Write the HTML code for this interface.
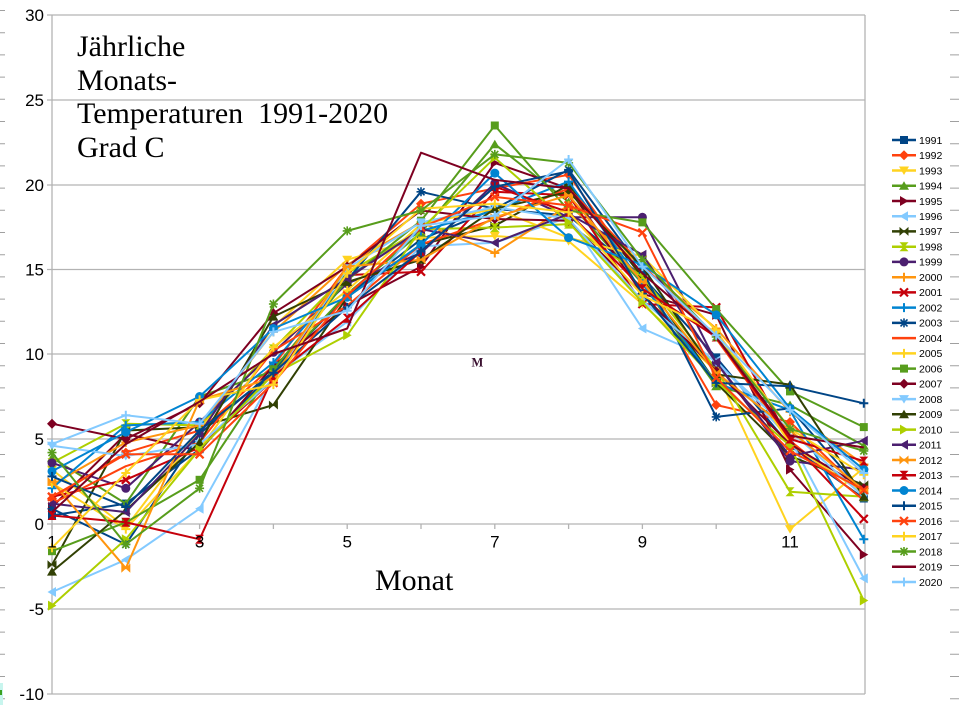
<!DOCTYPE html>
<html><head><meta charset="utf-8"><style>
html,body{margin:0;padding:0;background:#fff;}
body{width:959px;height:714px;overflow:hidden;}
svg{display:block;}
.t{font-family:"Liberation Serif",serif;font-size:30px;fill:#000;white-space:pre;}
.ax{font-family:"Liberation Sans",sans-serif;font-size:17px;fill:#000;}
.lg{font-family:"Liberation Sans",sans-serif;font-size:10.5px;fill:#000;}
</style></head><body>
<svg width="959" height="714" viewBox="0 0 959 714" xmlns="http://www.w3.org/2000/svg">
<defs>
<marker id="a91" viewBox="-6 -6 12 12" markerWidth="12" markerHeight="12" markerUnits="userSpaceOnUse" orient="0"><rect x="-4" y="-4" width="8" height="8" fill="#004586"/></marker>
<marker id="a92" viewBox="-6 -6 12 12" markerWidth="12" markerHeight="12" markerUnits="userSpaceOnUse" orient="0"><polygon points="0,-5 5,0 0,5 -5,0" fill="#ff420e"/></marker>
<marker id="a93" viewBox="-6 -6 12 12" markerWidth="12" markerHeight="12" markerUnits="userSpaceOnUse" orient="0"><polygon points="-5,-4 5,-4 0,4.5" fill="#ffd320"/></marker>
<marker id="a94" viewBox="-6 -6 12 12" markerWidth="12" markerHeight="12" markerUnits="userSpaceOnUse" orient="0"><polygon points="-5,4 5,4 0,-4.5" fill="#579d1c"/></marker>
<marker id="a95" viewBox="-6 -6 12 12" markerWidth="12" markerHeight="12" markerUnits="userSpaceOnUse" orient="0"><polygon points="-4,-5 -4,5 4.5,0" fill="#7e0021"/></marker>
<marker id="a96" viewBox="-6 -6 12 12" markerWidth="12" markerHeight="12" markerUnits="userSpaceOnUse" orient="0"><polygon points="4,-5 4,5 -4.5,0" fill="#83caff"/></marker>
<marker id="a97" viewBox="-6 -6 12 12" markerWidth="12" markerHeight="12" markerUnits="userSpaceOnUse" orient="0"><g fill="#314004"><polygon points="-4.5,-4.5 0.5,0 -4.5,4.5"/><polygon points="4.5,-4.5 -0.5,0 4.5,4.5"/></g></marker>
<marker id="a98" viewBox="-6 -6 12 12" markerWidth="12" markerHeight="12" markerUnits="userSpaceOnUse" orient="0"><g fill="#aecf00"><polygon points="-4.5,-4.5 4.5,-4.5 0,0.5"/><polygon points="-4.5,4.5 4.5,4.5 0,-0.5"/></g></marker>
<marker id="a99" viewBox="-6 -6 12 12" markerWidth="12" markerHeight="12" markerUnits="userSpaceOnUse" orient="0"><circle r="4.5" fill="#4b1f6f"/></marker>
<marker id="a00" viewBox="-6 -6 12 12" markerWidth="12" markerHeight="12" markerUnits="userSpaceOnUse" orient="0"><path d="M-4.5,0H4.5M0,-4.5V4.5" stroke="#ff950e" stroke-width="2" fill="none"/></marker>
<marker id="a01" viewBox="-6 -6 12 12" markerWidth="12" markerHeight="12" markerUnits="userSpaceOnUse" orient="0"><path d="M-4,-4L4,4M-4,4L4,-4" stroke="#c5000b" stroke-width="2.2" fill="none"/></marker>
<marker id="a02" viewBox="-6 -6 12 12" markerWidth="12" markerHeight="12" markerUnits="userSpaceOnUse" orient="0"><path d="M-4.5,0H4.5M0,-4.5V4.5" stroke="#0084d1" stroke-width="2" fill="none"/></marker>
<marker id="a03" viewBox="-6 -6 12 12" markerWidth="12" markerHeight="12" markerUnits="userSpaceOnUse" orient="0"><path d="M-4.5,0H4.5M0,-4.5V4.5M-3.5,-3.5L3.5,3.5M-3.5,3.5L3.5,-3.5" stroke="#004586" stroke-width="1.6" fill="none"/></marker>
<marker id="a05" viewBox="-6 -6 12 12" markerWidth="12" markerHeight="12" markerUnits="userSpaceOnUse" orient="0"><path d="M-4.5,0H4.5M0,-4.5V4.5" stroke="#ffd320" stroke-width="2" fill="none"/></marker>
<marker id="a06" viewBox="-6 -6 12 12" markerWidth="12" markerHeight="12" markerUnits="userSpaceOnUse" orient="0"><rect x="-4" y="-4" width="8" height="8" fill="#579d1c"/></marker>
<marker id="a07" viewBox="-6 -6 12 12" markerWidth="12" markerHeight="12" markerUnits="userSpaceOnUse" orient="0"><polygon points="0,-5 5,0 0,5 -5,0" fill="#7e0021"/></marker>
<marker id="a08" viewBox="-6 -6 12 12" markerWidth="12" markerHeight="12" markerUnits="userSpaceOnUse" orient="0"><polygon points="-5,-4 5,-4 0,4.5" fill="#83caff"/></marker>
<marker id="a09" viewBox="-6 -6 12 12" markerWidth="12" markerHeight="12" markerUnits="userSpaceOnUse" orient="0"><polygon points="-5,4 5,4 0,-4.5" fill="#314004"/></marker>
<marker id="a10" viewBox="-6 -6 12 12" markerWidth="12" markerHeight="12" markerUnits="userSpaceOnUse" orient="0"><polygon points="-4,-5 -4,5 4.5,0" fill="#aecf00"/></marker>
<marker id="a11" viewBox="-6 -6 12 12" markerWidth="12" markerHeight="12" markerUnits="userSpaceOnUse" orient="0"><polygon points="4,-5 4,5 -4.5,0" fill="#4b1f6f"/></marker>
<marker id="a12" viewBox="-6 -6 12 12" markerWidth="12" markerHeight="12" markerUnits="userSpaceOnUse" orient="0"><g fill="#ff950e"><polygon points="-4.5,-4.5 0.5,0 -4.5,4.5"/><polygon points="4.5,-4.5 -0.5,0 4.5,4.5"/></g></marker>
<marker id="a13" viewBox="-6 -6 12 12" markerWidth="12" markerHeight="12" markerUnits="userSpaceOnUse" orient="0"><g fill="#c5000b"><polygon points="-4.5,-4.5 4.5,-4.5 0,0.5"/><polygon points="-4.5,4.5 4.5,4.5 0,-0.5"/></g></marker>
<marker id="a14" viewBox="-6 -6 12 12" markerWidth="12" markerHeight="12" markerUnits="userSpaceOnUse" orient="0"><circle r="4.5" fill="#0084d1"/></marker>
<marker id="a15" viewBox="-6 -6 12 12" markerWidth="12" markerHeight="12" markerUnits="userSpaceOnUse" orient="0"><path d="M-4.5,0H4.5M0,-4.5V4.5" stroke="#004586" stroke-width="2" fill="none"/></marker>
<marker id="a16" viewBox="-6 -6 12 12" markerWidth="12" markerHeight="12" markerUnits="userSpaceOnUse" orient="0"><path d="M-4,-4L4,4M-4,4L4,-4" stroke="#ff420e" stroke-width="2.2" fill="none"/></marker>
<marker id="a17" viewBox="-6 -6 12 12" markerWidth="12" markerHeight="12" markerUnits="userSpaceOnUse" orient="0"><path d="M-4.5,0H4.5M0,-4.5V4.5" stroke="#ffd320" stroke-width="2" fill="none"/></marker>
<marker id="a18" viewBox="-6 -6 12 12" markerWidth="12" markerHeight="12" markerUnits="userSpaceOnUse" orient="0"><path d="M-4.5,0H4.5M0,-4.5V4.5M-3.5,-3.5L3.5,3.5M-3.5,3.5L3.5,-3.5" stroke="#579d1c" stroke-width="1.6" fill="none"/></marker>
<marker id="a20" viewBox="-6 -6 12 12" markerWidth="12" markerHeight="12" markerUnits="userSpaceOnUse" orient="0"><path d="M-4.5,0H4.5M0,-4.5V4.5" stroke="#83caff" stroke-width="2" fill="none"/></marker>
</defs>

<!-- edge ruler dashes -->
<g stroke="#a0a0a0" stroke-width="1">
<path d="M0,10.5H5M0,32.7H5M0,54.9H5M0,77.1H5M0,99.3H5M0,121.5H5M0,143.7H5M0,165.9H5M0,188.1H5M0,210.3H5M0,232.5H5M0,254.7H5M0,276.9H5M0,299.1H5M0,321.3H5M0,343.5H5M0,365.7H5M0,387.9H5M0,410.1H5M0,432.3H5M0,454.5H5M0,476.7H5M0,498.9H5M0,521.1H5M0,543.3H5M0,565.5H5M0,587.7H5M0,609.9H5M0,632.1H5M0,654.3H5M0,676.5H5M0,698.7H5"/>
<path d="M950,10.5H959M950,32.7H959M950,54.9H959M950,77.1H959M950,99.3H959M950,121.5H959M950,143.7H959M950,165.9H959M950,188.1H959M950,210.3H959M950,232.5H959M950,254.7H959M950,276.9H959M950,299.1H959M950,321.3H959M950,343.5H959M950,365.7H959M950,387.9H959M950,410.1H959M950,432.3H959M950,454.5H959M950,476.7H959M950,498.9H959M950,521.1H959M950,543.3H959M950,565.5H959M950,587.7H959M950,609.9H959M950,632.1H959M950,654.3H959M950,676.5H959M950,698.7H959"/>
</g>
<rect x="0" y="683" width="3" height="22" fill="#c8f5ee"/>
<rect x="0" y="690" width="2" height="5" fill="#3aa020"/>

<!-- grid -->
<g stroke="#b3b3b3" stroke-width="1.3" fill="none">
<path d="M47,15H865M47,100H865M47,185H865M47,269.5H865M47,354H865M47,439H865M47,524H865M47,609H865M47,694H865"/>
<path d="M52,15V694M865,15V694"/>
<path d="M52,524V529M125.8,524V529M199.6,524V529M273.4,524V529M347.2,524V529M421,524V529M494.8,524V529M568.6,524V529M642.4,524V529M716.2,524V529M790,524V529M863.8,524V529"/>
</g>

<!-- y labels -->
<g class="ax" text-anchor="end">
<text x="44" y="21">30</text>
<text x="44" y="106">25</text>
<text x="44" y="191">20</text>
<text x="44" y="275.5">15</text>
<text x="44" y="360">10</text>
<text x="44" y="445">5</text>
<text x="44" y="530">0</text>
<text x="44" y="615">-5</text>
<text x="44" y="700">-10</text>
</g>

<!-- series -->
<g fill="none" stroke-width="2" stroke-linejoin="round">
<polyline stroke="#004586" style="marker:url(#a91)" points="52,515.5 125.8,503.6 199.6,449.2 273.4,371 347.2,295.5 421,239.4 494.8,208.8 568.6,215.6 642.4,276.8 716.2,357.4 790,445.8 863.8,498.5"/>
<polyline stroke="#ff420e" style="marker:url(#a92)" points="52,498.5 125.8,452.6 199.6,430.5 273.4,365.9 347.2,266.6 421,203.7 494.8,188.4 568.6,174.8 642.4,278.5 716.2,405 790,422 863.8,493.4"/>
<polyline stroke="#ffd320" style="marker:url(#a93)" points="52,469.6 125.8,527.4 199.6,430.5 273.4,326.8 347.2,259.8 421,237.7 494.8,236 568.6,241.1 642.4,304 716.2,371 790,529.1 863.8,467.9"/>
<polyline stroke="#579d1c" style="marker:url(#a94)" points="52,457.7 125.8,503.6 199.6,396.5 273.4,371 347.2,293.8 421,232.6 494.8,144.2 568.6,202 642.4,283.6 716.2,386.3 790,405 863.8,445.8"/>
<polyline stroke="#7e0021" style="marker:url(#a95)" points="52,507 125.8,433.9 199.6,450.9 273.4,365.9 347.2,305.7 421,266.6 494.8,162.9 568.6,188.4 642.4,293.8 716.2,314.9 790,469.6 863.8,554.6"/>
<polyline stroke="#83caff" style="marker:url(#a96)" points="52,592 125.8,559.7 199.6,508.7 273.4,376.1 347.2,321.7 421,246.2 494.8,242.8 568.6,217.3 642.4,328.5 716.2,360.8 790,439 863.8,578.4"/>
<polyline stroke="#314004" style="marker:url(#a97)" points="52,564.8 125.8,430.5 199.6,427.1 273.4,405 347.2,297.2 421,244.5 494.8,225.8 568.6,185 642.4,276.8 716.2,382.9 790,456 863.8,484.9"/>
<polyline stroke="#aecf00" style="marker:url(#a98)" points="52,462.8 125.8,423.7 199.6,425.4 273.4,348.9 347.2,273.4 421,229.2 494.8,227.5 568.6,224.1 642.4,276.8 716.2,369.3 790,491.7 863.8,496.8"/>
<polyline stroke="#4b1f6f" style="marker:url(#a99)" points="52,462.8 125.8,488.3 199.6,422 273.4,352.3 347.2,283.6 421,253 494.8,183.3 568.6,217.3 642.4,217.3 716.2,362.5 790,461.1 863.8,469.6"/>
<polyline stroke="#ff950e" style="marker:url(#a00)" points="52,484.9 125.8,442.4 199.6,425.4 273.4,331.9 347.2,264.9 421,222.4 494.8,253 568.6,205.4 642.4,266.6 716.2,328.5 790,411.8 863.8,464.5"/>
<polyline stroke="#c5000b" style="marker:url(#a01)" points="52,496.8 125.8,479.8 199.6,447.5 273.4,379.5 347.2,275.1 421,271.7 494.8,191.8 568.6,195.2 642.4,304 716.2,307.4 790,440.7 863.8,518.9"/>
<polyline stroke="#0084d1" style="marker:url(#a02)" points="52,488.3 125.8,425.4 199.6,422 273.4,362.5 347.2,276.8 421,230.9 494.8,210.5 568.6,181.6 642.4,283.6 716.2,382.9 790,410.1 863.8,539.3"/>
<polyline stroke="#004586" style="marker:url(#a03)" points="52,508.7 125.8,544.4 199.6,433.9 273.4,371 347.2,280.2 421,191.8 494.8,208.8 568.6,169.7 642.4,270 716.2,416.9 790,408.4 863.8,493.4"/>
<polyline stroke="#ff420e" points="52,503.6 125.8,466.2 199.6,442.4 273.4,350.6 347.2,305.7 421,244.5 494.8,219 568.6,188.4 642.4,264.9 716.2,338.7 790,440.7 863.8,500.2"/>
<polyline stroke="#ffd320" style="marker:url(#a05)" points="52,483.2 125.8,529.1 199.6,449.2 273.4,347.2 347.2,290.4 421,224.1 494.8,208.8 568.6,237.7 642.4,256.4 716.2,330.2 790,444.1 863.8,493.4"/>
<polyline stroke="#579d1c" style="marker:url(#a06)" points="52,551.2 125.8,522.3 199.6,479.8 273.4,369.3 347.2,280.2 421,220.7 494.8,125.5 568.6,210.5 642.4,222.4 716.2,309.1 790,391.4 863.8,427.1"/>
<polyline stroke="#7e0021" style="marker:url(#a07)" points="52,423.7 125.8,439 199.6,403.3 273.4,313.2 347.2,266.6 421,210.5 494.8,219 568.6,220.7 642.4,293.8 716.2,371 790,444.1 863.8,488.3"/>
<polyline stroke="#83caff" style="marker:url(#a08)" points="52,445.8 125.8,456 199.6,444.1 273.4,379.5 347.2,268.3 421,222.4 494.8,207.1 568.6,219 642.4,300.6 716.2,362.5 790,430.5 863.8,496.8"/>
<polyline stroke="#314004" style="marker:url(#a09)" points="52,571.6 125.8,510.4 199.6,442.4 273.4,316.6 347.2,281.9 421,259.8 494.8,208.8 568.6,191.8 642.4,266.6 716.2,374.4 790,384.6 863.8,496.8"/>
<polyline stroke="#aecf00" style="marker:url(#a10)" points="52,605.6 125.8,539.3 199.6,449.2 273.4,374.4 347.2,335.3 421,229.2 494.8,157.8 568.6,222.4 642.4,302.3 716.2,381.2 790,445.8 863.8,600.5"/>
<polyline stroke="#4b1f6f" style="marker:url(#a11)" points="52,503.6 125.8,512.1 199.6,433.9 273.4,325.1 347.2,278.5 421,229.2 494.8,242.8 568.6,213.9 642.4,254.7 716.2,362.5 790,456 863.8,440.7"/>
<polyline stroke="#ff950e" style="marker:url(#a12)" points="52,481.5 125.8,568.2 199.6,399.9 273.4,377.8 347.2,266.6 421,259.8 494.8,217.3 568.6,195.2 642.4,281.9 716.2,372.7 790,430.5 863.8,490"/>
<polyline stroke="#c5000b" style="marker:url(#a13)" points="52,515.5 125.8,522.3 199.6,539.3 273.4,376.1 347.2,318.3 421,251.3 494.8,186.7 568.6,212.2 642.4,288.7 716.2,337 790,439 863.8,461.1"/>
<polyline stroke="#0084d1" style="marker:url(#a14)" points="52,471.3 125.8,432.2 199.6,396.5 273.4,328.5 347.2,297.2 421,244.5 494.8,173.1 568.6,237.7 642.4,264.9 716.2,314.9 790,408.4 863.8,469.6"/>
<polyline stroke="#004586" style="marker:url(#a15)" points="52,476.4 125.8,507 199.6,430.5 273.4,372.7 347.2,307.4 421,251.3 494.8,186.7 568.6,171.4 642.4,293.8 716.2,382.9 790,386.3 863.8,403.3"/>
<polyline stroke="#ff420e" style="marker:url(#a16)" points="52,496.8 125.8,454.3 199.6,454.3 273.4,382.9 347.2,295.5 421,227.5 494.8,196.9 568.6,205.4 642.4,232.6 716.2,377.8 790,450.9 863.8,490"/>
<polyline stroke="#ffd320" style="marker:url(#a17)" points="52,547.8 125.8,473 199.6,399.9 273.4,384.6 347.2,273.4 421,208.8 494.8,203.7 568.6,212.2 642.4,295.5 716.2,331.9 790,428.8 863.8,474.7"/>
<polyline stroke="#579d1c" style="marker:url(#a18)" points="52,452.6 125.8,544.4 199.6,488.3 273.4,304 347.2,230.9 421,210.5 494.8,154.4 568.6,162.9 642.4,259.8 716.2,337 790,428.8 863.8,450.9"/>
<polyline stroke="#7e0021" points="52,512.1 125.8,444.1 199.6,401.6 273.4,354 347.2,328.5 421,152.7 494.8,179.9 568.6,188.4 642.4,273.4 716.2,337 790,435.6 863.8,447.5"/>
<polyline stroke="#83caff" style="marker:url(#a20)" points="52,444.1 125.8,415.2 199.6,423.7 273.4,331.9 347.2,310.8 421,225.8 494.8,215.6 568.6,159.5 642.4,266.6 716.2,335.3 790,410.1 863.8,473"/>
</g>

<!-- x labels -->
<g class="ax" text-anchor="middle">
<text x="52" y="547.6">1</text>
<text x="199.6" y="547.6">3</text>
<text x="347.2" y="547.6">5</text>
<text x="494.8" y="547.6">7</text>
<text x="642.4" y="547.6">9</text>
<text x="790" y="547.6">11</text>
</g>

<!-- title -->
<text class="t" x="77" y="56">Jährliche</text>
<text class="t" x="77" y="90">Monats-</text>
<text class="t" x="77" y="123">Temperaturen  1991-2020</text>
<text class="t" x="77" y="157">Grad C</text>
<text class="t" x="375" y="590">Monat</text>
<text x="471.5" y="366.5" style="font-family:'Liberation Serif',serif;font-size:12.5px;font-weight:bold;fill:#3a1030;">M</text>

<!-- legend -->
<g fill="none" stroke-width="2.5">
<polyline stroke="#004586" marker-mid="url(#a91)" points="892,140 904,140 916,140"/>
<polyline stroke="#ff420e" marker-mid="url(#a92)" points="892,155.2 904,155.2 916,155.2"/>
<polyline stroke="#ffd320" marker-mid="url(#a93)" points="892,170.5 904,170.5 916,170.5"/>
<polyline stroke="#579d1c" marker-mid="url(#a94)" points="892,185.7 904,185.7 916,185.7"/>
<polyline stroke="#7e0021" marker-mid="url(#a95)" points="892,201 904,201 916,201"/>
<polyline stroke="#83caff" marker-mid="url(#a96)" points="892,216.2 904,216.2 916,216.2"/>
<polyline stroke="#314004" marker-mid="url(#a97)" points="892,231.4 904,231.4 916,231.4"/>
<polyline stroke="#aecf00" marker-mid="url(#a98)" points="892,246.7 904,246.7 916,246.7"/>
<polyline stroke="#4b1f6f" marker-mid="url(#a99)" points="892,261.9 904,261.9 916,261.9"/>
<polyline stroke="#ff950e" marker-mid="url(#a00)" points="892,277.2 904,277.2 916,277.2"/>
<polyline stroke="#c5000b" marker-mid="url(#a01)" points="892,292.4 904,292.4 916,292.4"/>
<polyline stroke="#0084d1" marker-mid="url(#a02)" points="892,307.6 904,307.6 916,307.6"/>
<polyline stroke="#004586" marker-mid="url(#a03)" points="892,322.9 904,322.9 916,322.9"/>
<polyline stroke="#ff420e" points="892,338.1 904,338.1 916,338.1"/>
<polyline stroke="#ffd320" marker-mid="url(#a05)" points="892,353.4 904,353.4 916,353.4"/>
<polyline stroke="#579d1c" marker-mid="url(#a06)" points="892,368.6 904,368.6 916,368.6"/>
<polyline stroke="#7e0021" marker-mid="url(#a07)" points="892,383.8 904,383.8 916,383.8"/>
<polyline stroke="#83caff" marker-mid="url(#a08)" points="892,399.1 904,399.1 916,399.1"/>
<polyline stroke="#314004" marker-mid="url(#a09)" points="892,414.3 904,414.3 916,414.3"/>
<polyline stroke="#aecf00" marker-mid="url(#a10)" points="892,429.6 904,429.6 916,429.6"/>
<polyline stroke="#4b1f6f" marker-mid="url(#a11)" points="892,444.8 904,444.8 916,444.8"/>
<polyline stroke="#ff950e" marker-mid="url(#a12)" points="892,460 904,460 916,460"/>
<polyline stroke="#c5000b" marker-mid="url(#a13)" points="892,475.3 904,475.3 916,475.3"/>
<polyline stroke="#0084d1" marker-mid="url(#a14)" points="892,490.5 904,490.5 916,490.5"/>
<polyline stroke="#004586" marker-mid="url(#a15)" points="892,505.8 904,505.8 916,505.8"/>
<polyline stroke="#ff420e" marker-mid="url(#a16)" points="892,521 904,521 916,521"/>
<polyline stroke="#ffd320" marker-mid="url(#a17)" points="892,536.2 904,536.2 916,536.2"/>
<polyline stroke="#579d1c" marker-mid="url(#a18)" points="892,551.5 904,551.5 916,551.5"/>
<polyline stroke="#7e0021" points="892,566.7 904,566.7 916,566.7"/>
<polyline stroke="#83caff" marker-mid="url(#a20)" points="892,582 904,582 916,582"/>
</g>
<g class="lg">
<text x="919" y="143.8">1991</text>
<text x="919" y="159">1992</text>
<text x="919" y="174.3">1993</text>
<text x="919" y="189.5">1994</text>
<text x="919" y="204.8">1995</text>
<text x="919" y="220">1996</text>
<text x="919" y="235.2">1997</text>
<text x="919" y="250.5">1998</text>
<text x="919" y="265.7">1999</text>
<text x="919" y="281">2000</text>
<text x="919" y="296.2">2001</text>
<text x="919" y="311.4">2002</text>
<text x="919" y="326.7">2003</text>
<text x="919" y="341.9">2004</text>
<text x="919" y="357.2">2005</text>
<text x="919" y="372.4">2006</text>
<text x="919" y="387.6">2007</text>
<text x="919" y="402.9">2008</text>
<text x="919" y="418.1">2009</text>
<text x="919" y="433.4">2010</text>
<text x="919" y="448.6">2011</text>
<text x="919" y="463.8">2012</text>
<text x="919" y="479.1">2013</text>
<text x="919" y="494.3">2014</text>
<text x="919" y="509.6">2015</text>
<text x="919" y="524.8">2016</text>
<text x="919" y="540">2017</text>
<text x="919" y="555.3">2018</text>
<text x="919" y="570.5">2019</text>
<text x="919" y="585.8">2020</text>
</g>
</svg>
</body></html>
